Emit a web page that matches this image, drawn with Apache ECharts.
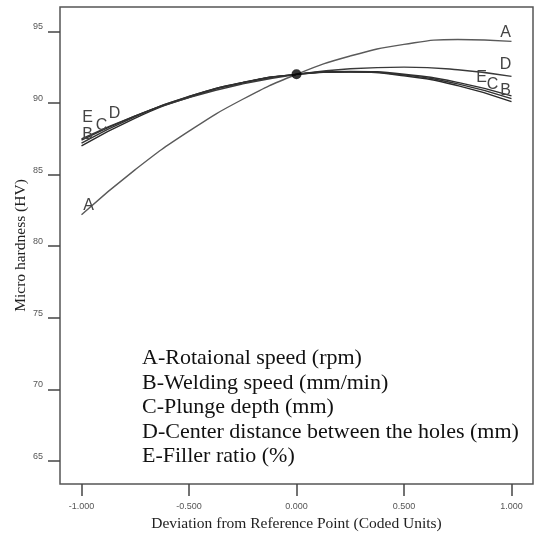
<!DOCTYPE html>
<html>
<head>
<meta charset="utf-8">
<script src="https://cdn.jsdelivr.net/npm/echarts@6/dist/echarts.min.js"></script>
<style>html,body{margin:0;padding:0;background:#fff;}#c{width:536px;height:533px;}</style>
</head>
<body>
<div id="c"></div>
<script>
// Coded deviation from reference point
var xs = [-1, -0.75, -0.5, -0.25, 0, 0.25, 0.5, 0.75, 1];
// Micro hardness (HV) per factor
var seriesA = [82.2, 85.35, 88.03, 90.26, 92.0, 93.28, 94.09, 94.43, 94.3];
var seriesB = [87.0, 88.95, 90.40, 91.41, 92.0, 92.16, 91.90, 91.21, 90.1];
var seriesC = [87.2, 89.05, 90.45, 91.43, 92.0, 92.18, 91.95, 91.33, 90.3];
var seriesD = [87.5, 89.10, 90.37, 91.33, 92.0, 92.39, 92.50, 92.32, 91.86];
var seriesE = [87.4, 89.10, 90.46, 91.42, 92.0, 92.20, 92.01, 91.44, 90.5];
var refPoint = [0, 92.0];
var xTicks = [-1, -0.5, 0, 0.5, 1];
var yTicks = [65, 70, 75, 80, 85, 90, 95];
var legendLines = [
  'A-Rotaional speed (rpm)',
  'B-Welding speed (mm/min)',
  'C-Plunge depth (mm)',
  'D-Center distance between the holes (mm)',
  'E-Filler ratio (%)'
];
var xTitle = 'Deviation from Reference Point (Coded Units)';
var yTitle = 'Micro hardness (HV)';

function pairs(vals) { return xs.map(function (x, i) { return [x, vals[i]]; }); }

var labelStyle = { fontFamily: 'Liberation Sans, Arial, sans-serif', fontSize: 16, color: '#444' };
function mp(items) {
  return {
    symbol: 'circle', symbolSize: 0, silent: true,
    data: items.map(function (it) {
      return { coord: it.coord, label: Object.assign({ show: true, formatter: it.text, offset: it.offset, position: 'inside' }, labelStyle) };
    })
  };
}
var last = xs.length - 1;
var defs = [
  { vals: seriesA, color: '#5a5a5a',
    marks: [{ coord: [xs[last], seriesA[last]], text: 'A', offset: [-6, -9] }, { coord: [xs[0], seriesA[0]], text: 'A', offset: [7, -9] }] },
  { vals: seriesB, color: '#2a2a2a',
    marks: [{ coord: [xs[last], seriesB[last]], text: 'B', offset: [-6, -11] }, { coord: [xs[0], seriesB[0]], text: 'B', offset: [6, -11] }] },
  { vals: seriesC, color: '#333333',
    marks: [{ coord: [xs[last], seriesC[last]], text: 'C', offset: [-19, -14] }, { coord: [xs[0], seriesC[0]], text: 'C', offset: [20, -17] }] },
  { vals: seriesD, color: '#3a3a3a',
    marks: [{ coord: [xs[last], seriesD[last]], text: 'D', offset: [-6, -12] }, { coord: [xs[0], seriesD[0]], text: 'D', offset: [33, -25] }] },
  { vals: seriesE, color: '#2f2f2f',
    marks: [{ coord: [xs[last], seriesE[last]], text: 'E', offset: [-30, -18] }, { coord: [xs[0], seriesE[0]], text: 'E', offset: [6, -23] }] }
];

var series = defs.map(function (d) {
  return {
    type: 'line', data: pairs(d.vals), smooth: true, showSymbol: false,
    lineStyle: { color: d.color, width: 1.4 }, silent: true, animation: false,
    markPoint: mp(d.marks)
  };
});
series.push({
  type: 'scatter', data: [refPoint], symbolSize: 10, itemStyle: { color: '#000' }, silent: true, animation: false, z: 5
});

var chart = echarts.init(document.getElementById('c'), null, { renderer: 'canvas' });
chart.setOption({
  animation: false,
  backgroundColor: '#fff',
  grid: { left: 60, top: 7, right: 3, bottom: 49, show: true, borderColor: '#555', borderWidth: 1.5, backgroundColor: '#fff',
    containLabel: false, outerBoundsMode: 'none' },
  xAxis: {
    type: 'value', min: -1.1, max: 1.1,
    name: xTitle, nameLocation: 'middle', nameGap: 31,
    nameTextStyle: { fontFamily: 'Liberation Serif, Times New Roman, serif', fontSize: 15.5, color: '#222' },
    axisLine: { show: false, onZero: false },
    splitLine: { show: false },
    axisTick: { show: true, customValues: xTicks, length: 12, lineStyle: { color: '#444', width: 1.5 } },
    axisLabel: { customValues: xTicks, margin: 18, fontSize: 9, color: '#555', fontFamily: 'Liberation Sans, Arial, sans-serif',
      formatter: function (v) { return v.toFixed(3); } }
  },
  yAxis: {
    type: 'value', min: 63.4, max: 96.7,
    name: yTitle, nameLocation: 'middle', nameGap: 31, nameMoveOverlap: false,
    nameTextStyle: { fontFamily: 'Liberation Serif, Times New Roman, serif', fontSize: 15.5, color: '#222' },
    axisLine: { show: false, onZero: false },
    splitLine: { show: false },
    axisTick: { show: true, customValues: yTicks, length: 12, lineStyle: { color: '#444', width: 1.5 } },
    axisLabel: { customValues: yTicks, margin: 17, fontSize: 9, color: '#555', verticalAlign: 'bottom', fontFamily: 'Liberation Sans, Arial, sans-serif',
      formatter: function (v) { return String(Math.round(v)); } }
  },
  graphic: [{
    type: 'text', left: 142, top: 346, silent: true,
    style: { text: legendLines.join('\n'), font: '22px "Liberation Serif", "Times New Roman", serif', lineHeight: 24.5, fill: '#111' }
  }],
  series: series
});
</script>
</body>
</html>
